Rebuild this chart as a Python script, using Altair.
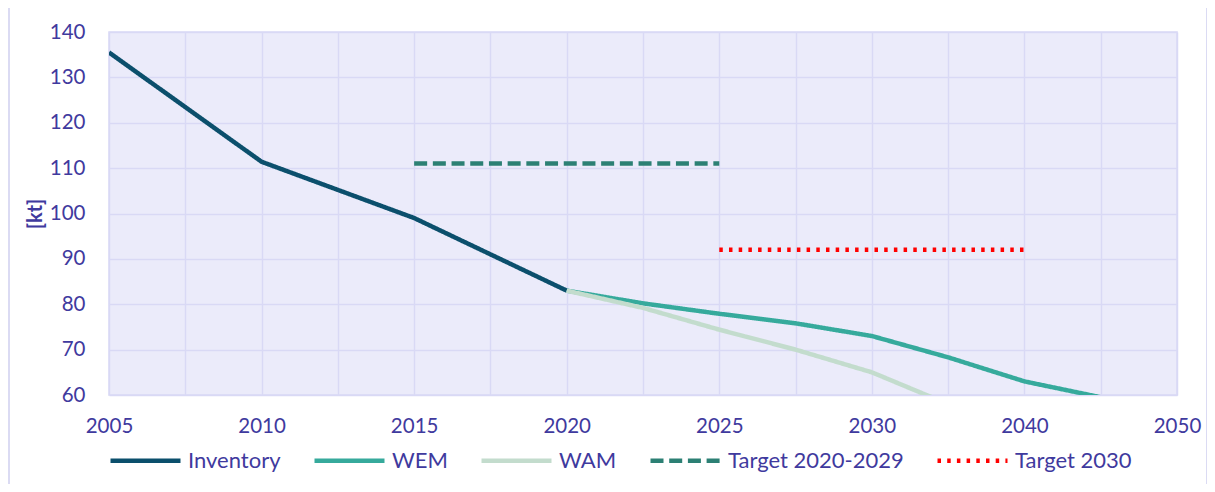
import altair as alt
import pandas as pd

# ---- data ----
series = ["Inventory", "WEM", "WAM", "Target 2020-2029", "Target 2030"]
colors = ["#0b4f6c", "#36aa9c", "#c3dccd", "#2c8074", "#ff0000"]
dashes = [[1, 0], [1, 0], [1, 0], [13, 5.7], [3.5, 6.2]]

inv_years = [2005, 2010, 2015, 2020]
inv_vals = [135.5, 111.4, 99.0, 83.0]

wem_years = [2020, 2022.5, 2025, 2027.5, 2030, 2035, 2040, 2045]
wem_vals = [83.0, 80.2, 77.9, 75.8, 73.0, 68.3, 63.0, 59.5]

wam_years = [2020, 2022.5, 2025, 2027.5, 2030, 2035]
wam_vals = [83.0, 79.2, 74.4, 70.0, 65.0, 58.0]

t1_years = [2015, 2025]
t1_vals = [111.0, 111.0]

t2_years = [2025, 2040]
t2_vals = [92.0, 92.0]

grid_years = [2005, 2007.5, 2010, 2012.5, 2015, 2017.5, 2020, 2022.5, 2025,
              2027.5, 2030, 2035, 2040, 2045, 2050]
label_years = [2005, 2010, 2015, 2020, 2025, 2030, 2040, 2050]
y_ticks = [60, 70, 80, 90, 100, 110, 120, 130, 140]

rows = []
for name, ys, vs in [("Inventory", inv_years, inv_vals),
                     ("WEM", wem_years, wem_vals),
                     ("WAM", wam_years, wam_vals),
                     ("Target 2020-2029", t1_years, t1_vals),
                     ("Target 2030", t2_years, t2_vals)]:
    for yr, v in zip(ys, vs):
        rows.append({"series": name, "year": yr, "value": v})
df = pd.DataFrame(rows)

W = 1068
H = 363
TXT = "#3f3a9e"
GRID = "#d9d9f5"
FONT = "Lato"

label_expr = "indexof([" + ",".join(str(v) for v in label_years) + "], datum.value) >= 0 ? datum.label : ''"

legend = alt.Legend(
    title=None, orient="none", legendX=-1, legendY=391, direction="horizontal",
    symbolType="stroke", symbolSize=4900, symbolStrokeWidth=4.5,
    labelFont=FONT, labelFontSize=22, labelColor=TXT, labelOffset=5,
    labelLimit=400, columnPadding=24, padding=0,
)

lines = alt.Chart(df).mark_line(strokeWidth=4.5, clip=True, interpolate="linear",
                                 strokeCap="butt", strokeJoin="round").encode(
    x=alt.X("year:Q",
            scale=alt.Scale(domain=[2005, 2030, 2050], range=[0, W * 25 / 35, W],
                            nice=False, zero=False),
            axis=alt.Axis(values=grid_years, labelExpr=label_expr, format="d",
                          ticks=False, tickSize=0, domain=False, grid=True,
                          gridColor=GRID, gridWidth=1.5, labelFont=FONT,
                          labelFontSize=20.5, labelColor=TXT, labelPadding=21,
                          labelFlush=False, labelOverlap=False, title=None)),
    y=alt.Y("value:Q",
            scale=alt.Scale(domain=[60, 140], nice=False, zero=False),
            axis=alt.Axis(values=y_ticks, ticks=False, tickSize=0, domain=False,
                          grid=True, gridColor=GRID, gridWidth=1.5,
                          labelFont=FONT, labelFontSize=20.5, labelColor=TXT,
                          labelPadding=24, title="[kt]", titleFont=FONT,
                          titleFontSize=20, titleFontWeight="bold",
                          titleColor=TXT, titlePadding=4)),
    color=alt.Color("series:N", scale=alt.Scale(domain=series, range=colors),
                    legend=legend),
    strokeDash=alt.StrokeDash("series:N", scale=alt.Scale(domain=series, range=dashes),
                              legend=legend),
)

border = alt.Chart(pd.DataFrame({"b": [0]})).mark_rect(
    fillOpacity=0, stroke="#d0d0ef", strokeWidth=1.5
).encode(
    x=alt.value(-100), x2=alt.value(1098), y=alt.value(-25), y2=alt.value(454)
)

chart = alt.layer(lines, border).properties(
    width=W, height=H,
    autosize=alt.AutoSizeParams(type="none"),
    padding={"left": 101, "top": 24, "right": 30, "bottom": 89},
).configure_view(fill="#ebebfa", stroke=GRID, strokeWidth=1.5)

chart.save("out.html", embed_options={"renderer": "svg", "actions": False})
